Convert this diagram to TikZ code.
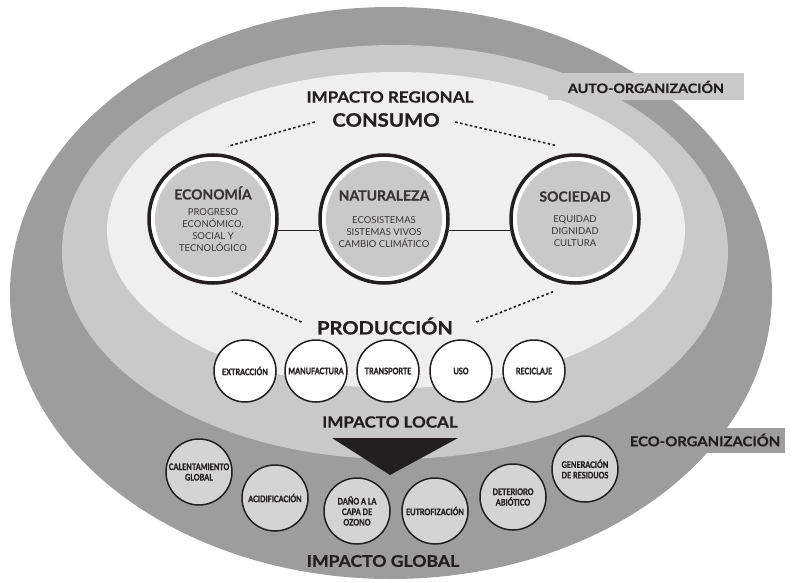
\documentclass[tikz,border=0pt]{standalone}
\usepackage{fontspec}
\setmainfont{Lato}
\newfontfamily\condfont[FakeStretch=0.8,FakeBold=1.2]{Lato}
\newfontfamily\widefont[FakeStretch=1.1,FakeBold=0.7]{Lato}
\newfontfamily\heavyfont[FakeBold=0.6]{Lato}
\usepackage{tikz}
\usetikzlibrary{calc}
\usetikzlibrary{positioning}
\definecolor{ringdark}{HTML}{9D9D9D}
\definecolor{ringmid}{HTML}{C9C9C9}
\definecolor{ringlight}{HTML}{EFEFF0}
\definecolor{ink}{HTML}{231F20}

\begin{document}
\begin{tikzpicture}[x=1pt,y=-1pt,
		bigc/.style={circle,draw=ink,line width=3.5pt,fill=white,minimum size=128pt,inner sep=0pt,align=center,text=ink!90,
			font=\fontsize{9.5}{12}\selectfont,
			path picture={\fill[ringmid] (path picture bounding box.center) circle (58pt);}},
		prodc/.style={circle,draw=ink,line width=1.5pt,fill=white,minimum size=62pt,inner sep=0pt,align=center,text=ink,
			font=\condfont\bfseries\fontsize{9}{10.5}\selectfont},
		globc/.style={prodc,fill=ringmid!80!white,minimum size=66pt},
		title/.style={text=ink,font=\widefont\bfseries\fontsize{#1}{#1}\selectfont},
		tagbox/.style={fill=#1,text=ink,inner sep=0pt},
		dotline/.style={ink,line width=1.6pt,dash pattern=on 2.6pt off 2.4pt},
		link/.style={ink,line width=1.5pt}]
	
	\useasboundingbox (0,0) rectangle (793,583);
	
	\fill[ringdark] (391,293) ellipse [x radius=381pt, y radius=286pt];
	\fill[ringmid] (395,252) ellipse [x radius=333pt, y radius=207pt];
	\fill[ringlight] (396,230) ellipse [x radius=289pt, y radius=158pt];
	
	\node[tagbox=ringmid,title=13,minimum width=196pt,minimum height=27pt] (auto) at (646,87) {AUTO-ORGANIZACIÓN};
	\node[tagbox=ringdark,title=13.5,minimum width=160pt,minimum height=25pt] (eco) at (705,440) {ECO-ORGANIZACIÓN};
	
	\node[title=15.5] (regional) at (390,97) {IMPACTO REGIONAL};
	\node[title=18.5] (consumo) at (386,120) {CONSUMO};
	
	\node[bigc] (econ) at (213,219) {{\heavyfont\bfseries\fontsize{14}{14}\selectfont ECONOMÍA}\\[4pt]PROGRESO\\ECONÓMICO,\\SOCIAL Y\\TECNOLÓGICO};
	\node[bigc] (nat) at (384,219) {{\heavyfont\bfseries\fontsize{14}{14}\selectfont NATURALEZA}\\[11pt]ECOSISTEMAS\\SISTEMAS VIVOS\\CAMBIO CLIMÁTICO};
	\node[bigc] (soc) at (575,219) {{\heavyfont\bfseries\fontsize{14}{14}\selectfont SOCIEDAD}\\[9pt]EQUIDAD\\DIGNIDAD\\CULTURA};
	
	\draw[link] (econ.-10) -- (nat.190);
	\draw[link] (nat.-10) -- (soc.190);
	
	\node[title=18.3] (prod) at (385,326) {PRODUCCIÓN};
	
	\draw[dotline] ($(consumo.west)+(-14,2)$) -- ($(econ.north)+(15,-7)$);
	\draw[dotline] ($(consumo.east)+(12,2)$) -- ($(soc.north)+(-20,-8)$);
	\draw[dotline] ($(prod.west)+(-12,-4)$) -- ($(econ.south)+(19,7)$);
	\draw[dotline] ($(prod.east)+(20,-4)$) -- ($(soc.south)+(-22,7)$);
	
	\node[prodc] (extr) at (245,371) {EXTRACCIÓN};
	\node[prodc] (manu) at (316,371) {MANUFACTURA};
	\node[prodc] (trans) at (388,371) {TRANSPORTE};
	\node[prodc] (uso) at (461,371) {USO};
	\node[prodc] (recic) at (534,371) {RECICLAJE};
	
	\node[title=15.5] (local) at (390,422) {IMPACTO LOCAL};
	\fill[ink] (332,438) -- (458,438) -- (390,475) -- cycle;
	
	\node[globc] (calent) at (199,472) {CALENTAMIENTO\\GLOBAL};
	\node[globc] (acid) at (275,498) {ACIDIFICACIÓN};
	\node[globc] (ozono) at (357,511) {DAÑO A LA\\CAPA DE\\OZONO};
	\node[globc] (eutro) at (435,511) {EUTROFIZACIÓN};
	\node[globc] (abio) at (513,497) {DETERIORO\\ABIÓTICO};
	\node[globc] (resid) at (585,469) {GENERACIÓN\\DE RESIDUOS};
	
	\node[title=16] (global) at (383,561) {IMPACTO GLOBAL};
	
\end{tikzpicture}
\end{document}
